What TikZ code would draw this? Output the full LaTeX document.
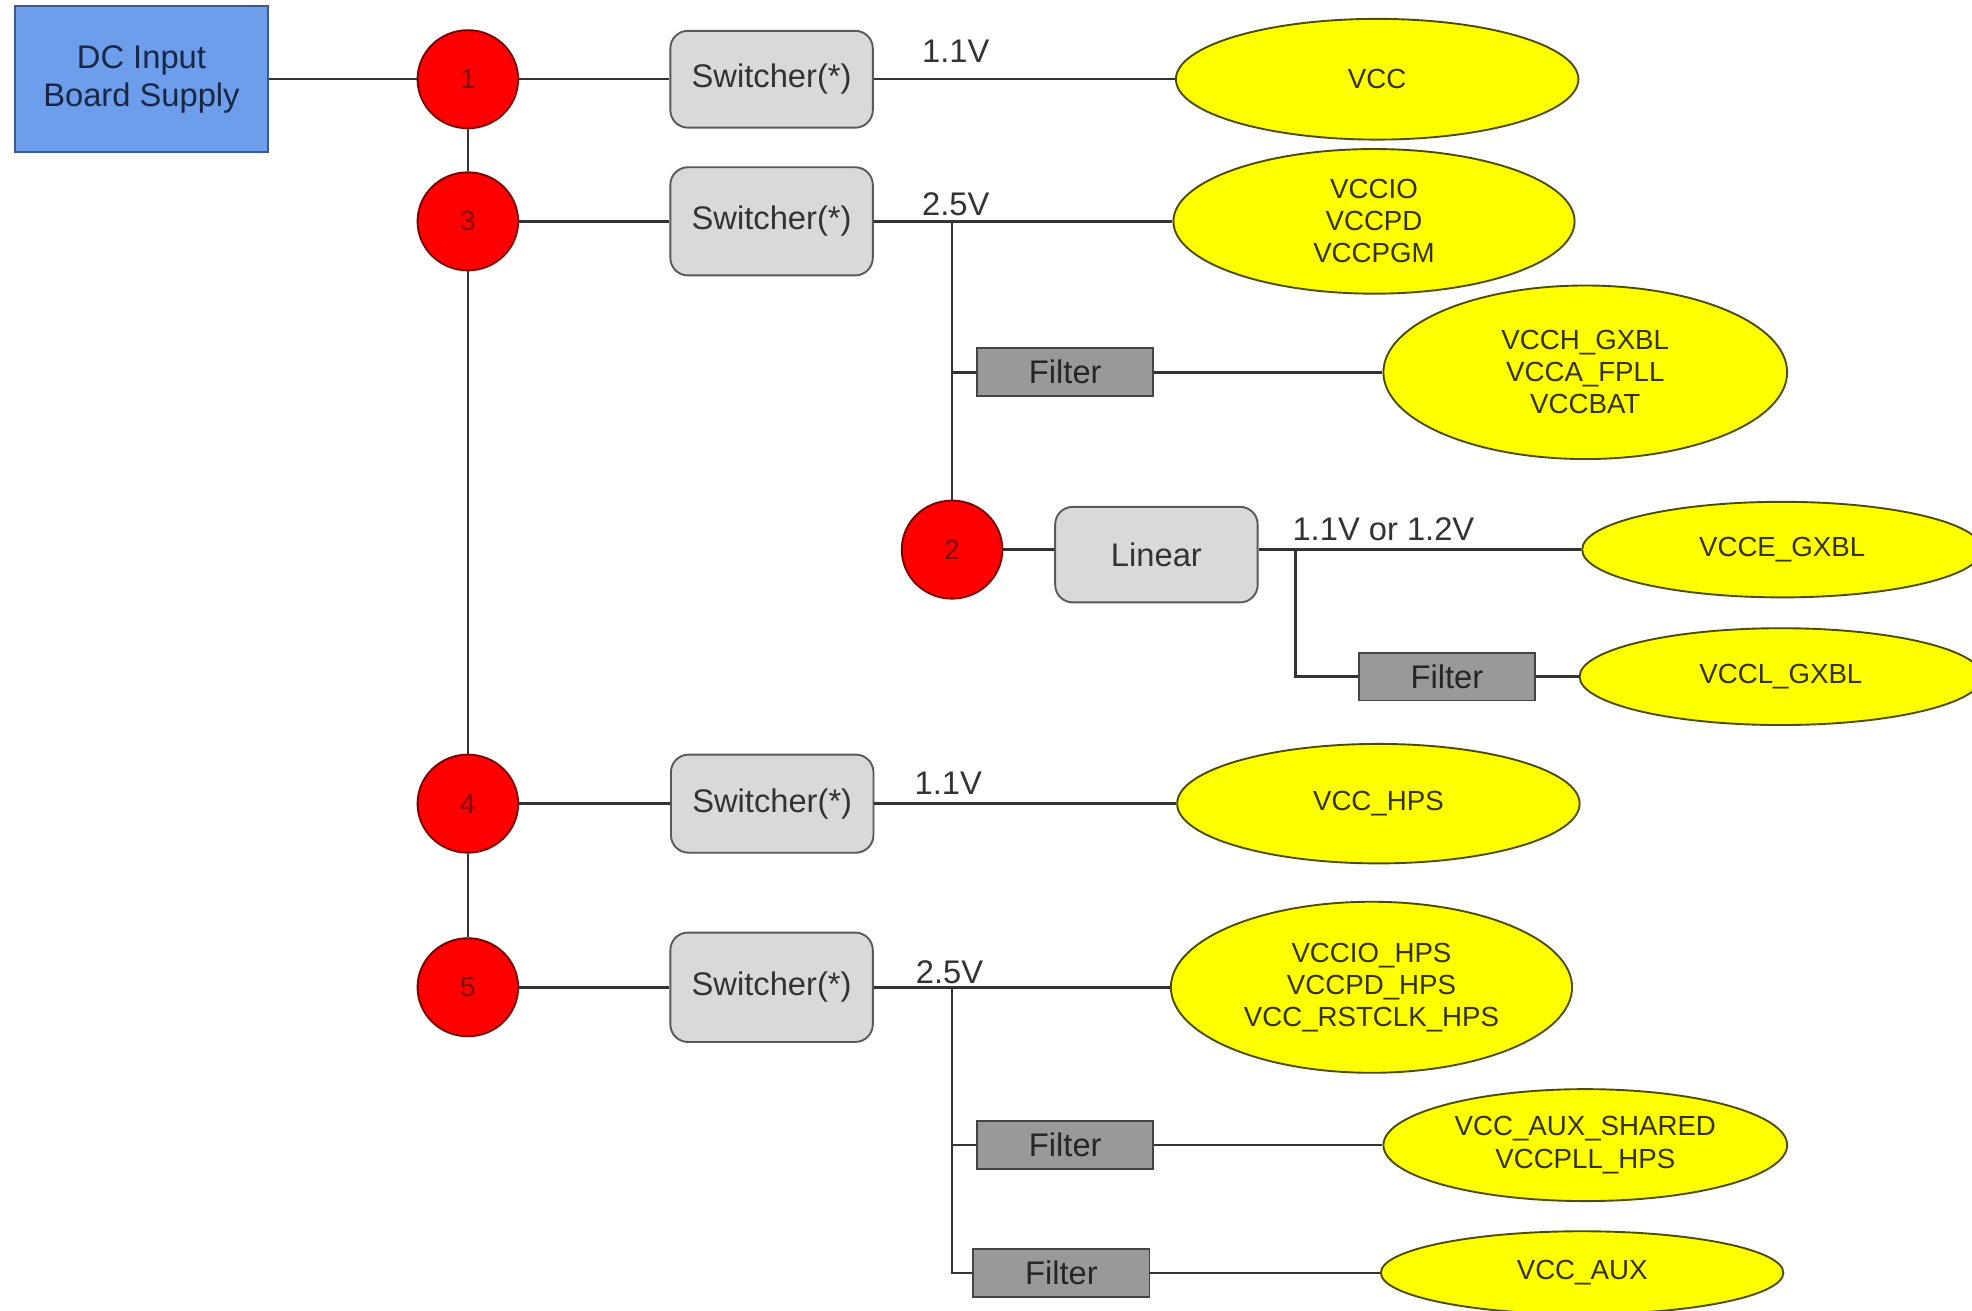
\documentclass[tikz,border=0pt]{standalone}
\usepackage{fontspec}
\setmainfont{Liberation Sans}
\usetikzlibrary{shapes.geometric}

\definecolor{wirecol}{HTML}{333333}
\definecolor{srcfill}{HTML}{6D9EEB}
\definecolor{srcborder}{HTML}{3C5A8C}
\definecolor{srctext}{HTML}{1A2744}
\definecolor{dotfill}{HTML}{FF0000}
\definecolor{dotborder}{HTML}{7A0000}
\definecolor{dottext}{HTML}{7A0A0A}
\definecolor{swfill}{HTML}{D9D9D9}
\definecolor{swborder}{HTML}{595959}
\definecolor{swtext}{HTML}{333333}
\definecolor{ffill}{HTML}{999999}
\definecolor{fborder}{HTML}{434343}
\definecolor{ftext}{HTML}{262626}
\definecolor{railfill}{HTML}{FFFF00}
\definecolor{railborder}{HTML}{4D4D00}
\definecolor{railtext}{HTML}{333300}

\begin{document}
\begin{tikzpicture}[x=1pt,y=-1pt,
  wire/.style={draw=wirecol, line width=2pt},
  src/.style={rectangle, draw=srcborder, fill=srcfill, line width=1.5pt,
    minimum width=201pt, minimum height=116pt, text=srctext, align=center,
    font=\fontsize{26}{30}\selectfont, inner sep=0pt},
  dot/.style={ellipse, draw=dotborder, fill=dotfill, line width=1.5pt,
    minimum width=80pt, minimum height=78pt, text=dottext,
    font=\fontsize{22}{26}\selectfont, inner sep=0pt},
  switcher/.style={rectangle, rounded corners=14pt, draw=swborder, fill=swfill,
    line width=1.5pt, minimum width=161pt, text=swtext,
    font=\fontsize{26}{30}\selectfont, inner sep=0pt},
  filterbox/.style={rectangle, draw=fborder, fill=ffill, line width=1.5pt,
    minimum width=140pt, minimum height=38pt, text=ftext,
    font=\fontsize{26}{30}\selectfont, inner sep=0pt},
  rail/.style={ellipse, draw=railborder, fill=railfill, line width=1.5pt,
    minimum width=320pt, align=center, text=railtext,
    font=\fontsize{22}{25.5}\selectfont, inner sep=0pt},
  volt/.style={anchor=base, text=swtext, font=\fontsize{26}{30}\selectfont, inner sep=0pt}
]
\useasboundingbox[fill=white] (0,0) rectangle (1568,1042);

% supply and distribution points
\node[src] (dc) at (112.5,63) {DC Input\\Board Supply};
\node[dot] (c1) at (372,63) {1};
\node[dot] (c3) at (372,176) {3};
\node[dot] (c2) at (757,437) {2};
\node[dot] (c4) at (372,639) {4};
\node[dot] (c5) at (372,785) {5};

% regulators
\node[switcher, minimum height=77pt] (s1) at (613.5,63) {Switcher(*)};
\node[switcher, minimum height=86pt] (s3) at (613.5,176) {Switcher(*)};
\node[switcher, minimum height=78pt] (s4) at (614,639) {Switcher(*)};
\node[switcher, minimum height=87pt] (s5) at (613.5,785) {Switcher(*)};
\node[switcher, minimum height=76pt] (lin) at (919.5,441) {Linear};

% filters
\node[filterbox] (f1) at (847,296) {Filter};
\node[filterbox] (f2) at (1150.5,538) {Filter};
\node[filterbox] (f3) at (847,910.5) {Filter};
\node[filterbox] (f4) at (844,1012) {Filter};

% power rails
\node[rail, minimum height=96pt] (vcc) at (1095,63) {VCC};
\node[rail, minimum width=319pt, minimum height=115pt] (vccio) at (1092.5,176) {VCCIO\\VCCPD\\VCCPGM};
\node[rail, minimum width=321pt, minimum height=138pt] (vcch) at (1260.5,296) {VCCH\_GXBL\\VCCA\_FPLL\\VCCBAT};
\node[rail, minimum width=318pt, minimum height=76pt] (vcce) at (1417,437) {VCCE\_GXBL};
\node[rail, minimum height=77pt] (vccl) at (1416,538) {VCCL\_GXBL};
\node[rail, minimum height=95pt] (vcchps) at (1096,639) {VCC\_HPS};
\node[rail, minimum width=319pt, minimum height=136pt] (vcciohps) at (1090.5,785) {VCCIO\_HPS\\VCCPD\_HPS\\VCC\_RSTCLK\_HPS};
\node[rail, minimum width=321pt, minimum height=89pt] (aux) at (1260.5,910.5) {VCC\_AUX\_SHARED\\VCCPLL\_HPS};
\node[rail, minimum height=66pt] (vccaux) at (1258,1012) {VCC\_AUX};

% branch points
\coordinate (j1) at (757,176);
\coordinate (j2) at (1030,437);
\coordinate (j3) at (757,785);

% main trunk
\draw[wire] (dc) -- (c1);
\draw[wire] (c1) -- (c3);
\draw[wire] (c3) -- (c4);
\draw[wire] (c4) -- (c5);

% branch 1
\draw[wire] (c1) -- (s1);
\draw[wire] (s1) -- (vcc);

% branch 3
\draw[wire] (c3) -- (s3);
\draw[wire] (s3) -- (vccio);
\draw[wire] (j1) -- (c2);
\draw[wire] (j1) |- (f1.west);
\draw[wire] (f1) -- (vcch);

% branch 2
\draw[wire] (c2) -- (c2 -| lin.west);
\draw[wire] (lin.east |- vcce) -- (vcce);
\draw[wire] (j2) |- (f2.west);
\draw[wire] (f2) -- (vccl);

% branch 4
\draw[wire] (c4) -- (s4);
\draw[wire] (s4) -- (vcchps);

% branch 5
\draw[wire] (c5) -- (s5);
\draw[wire] (s5) -- (vcciohps);
\draw[wire] (j3) |- (f3.west);
\draw[wire] (j3) |- (f4.west);
\draw[wire] (f3) -- (aux);
\draw[wire] (f4) -- (vccaux);

% output voltages
\node[volt] (v1) at (760,50) {1.1V};
\node[volt] (v3) at (760,171) {2.5V};
\node[volt] (v2) at (1100,430) {1.1V or 1.2V};
\node[volt] (v4) at (754,632) {1.1V};
\node[volt] (v5) at (755,782) {2.5V};
\end{tikzpicture}
\end{document}
